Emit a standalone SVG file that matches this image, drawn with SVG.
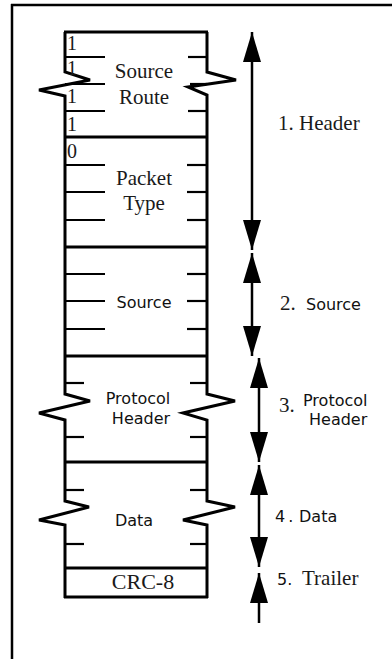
<svg xmlns="http://www.w3.org/2000/svg" width="392" height="659" viewBox="0 0 392 659">
<style>
.edge{fill:none;stroke:#000;stroke-width:3;stroke-linejoin:miter}
.sep{stroke:#000;stroke-width:3}
.tick{stroke:#000;stroke-width:2.2}
.serif{font-family:"Liberation Serif","Times New Roman",serif;fill:#1a1a1a}
.sans{font-family:"DejaVu Sans","Liberation Sans",sans-serif;fill:#111}
.arr{stroke:#000;stroke-width:2.5;fill:none}
</style>
<defs>
<marker id="ah" viewBox="0 0 30 18" refX="30" refY="9" markerWidth="30" markerHeight="18" markerUnits="userSpaceOnUse" orient="auto-start-reverse">
<path d="M0,0 L30,9 L0,18 z" fill="#000"/>
</marker>
</defs>
<rect width="392" height="659" fill="#fff"/>
<g id="frame">
<line x1="11" y1="5" x2="392" y2="5" stroke="#000" stroke-width="2.5"/>
<line x1="12" y1="4" x2="12" y2="659" stroke="#000" stroke-width="2.5"/>
</g>
<g id="column">
<path class="edge" d="M65,32 V72 L90,80 L39,90 L65,96 V394 L90,401 L39,413 L65,420 V501 L89,507 L39,520 L65,525 V598"/>
<path class="edge" d="M207,32 V72 L236,80 L188,87 L207,95 V394 L235,401 L183,413 L207,420 V501 L235,507 L183,520 L207,525 V598"/>
</g>
<g id="source-route">
<line class="sep" x1="64" y1="32" x2="208" y2="32"/>
<line class="tick" x1="65" y1="57" x2="105" y2="57"/>
<line class="tick" x1="65" y1="84" x2="105" y2="84"/>
<line class="tick" x1="65" y1="111" x2="105" y2="111"/>
<line class="tick" x1="188" y1="57" x2="207" y2="57"/>
<line class="tick" x1="190" y1="84" x2="207" y2="84"/>
<line class="tick" x1="188" y1="111" x2="207" y2="111"/>
<text class="serif" x="67" y="50" font-size="20">1</text>
<text class="serif" x="67" y="75" font-size="20">1</text>
<text class="serif" x="67" y="103" font-size="20">1</text>
<text class="serif" x="67" y="131" font-size="20">1</text>
<text class="serif" x="144" y="78" font-size="21" text-anchor="middle">Source</text>
<text class="serif" x="144" y="104" font-size="21" text-anchor="middle">Route</text>
</g>
<g id="packet-type">
<line class="sep" x1="64" y1="137" x2="208" y2="137"/>
<line class="tick" x1="65" y1="165" x2="105" y2="165"/>
<line class="tick" x1="65" y1="192" x2="105" y2="192"/>
<line class="tick" x1="65" y1="220" x2="105" y2="220"/>
<line class="tick" x1="187" y1="165" x2="207" y2="165"/>
<line class="tick" x1="187" y1="192" x2="207" y2="192"/>
<line class="tick" x1="187" y1="220" x2="207" y2="220"/>
<text class="serif" x="67" y="158" font-size="20">0</text>
<text class="serif" x="144" y="185" font-size="21" text-anchor="middle">Packet</text>
<text class="serif" x="144" y="210" font-size="21" text-anchor="middle">Type</text>
</g>
<g id="source">
<line class="sep" x1="64" y1="247" x2="208" y2="247"/>
<line class="tick" x1="66" y1="274" x2="105" y2="274"/>
<line class="tick" x1="66" y1="301" x2="105" y2="301"/>
<line class="tick" x1="66" y1="329" x2="105" y2="329"/>
<line class="tick" x1="187" y1="274" x2="207" y2="274"/>
<line class="tick" x1="187" y1="301" x2="207" y2="301"/>
<line class="tick" x1="187" y1="329" x2="207" y2="329"/>
<text class="sans" x="144" y="308" font-size="16" text-anchor="middle">Source</text>
</g>
<g id="protocol-header">
<line class="sep" x1="64" y1="356" x2="208" y2="356"/>
<line class="tick" x1="65" y1="383" x2="84" y2="383"/>
<line class="tick" x1="65" y1="437" x2="84" y2="437"/>
<line class="tick" x1="190" y1="383" x2="207" y2="383"/>
<line class="tick" x1="190" y1="437" x2="207" y2="437"/>
<text class="sans" x="138" y="404" font-size="16" text-anchor="middle">Protocol</text>
<text class="sans" x="141" y="424" font-size="16" text-anchor="middle">Header</text>
</g>
<g id="data">
<line class="sep" x1="64" y1="462" x2="208" y2="462"/>
<line class="tick" x1="65" y1="490" x2="84" y2="490"/>
<line class="tick" x1="65" y1="544" x2="84" y2="544"/>
<line class="tick" x1="190" y1="490" x2="207" y2="490"/>
<line class="tick" x1="190" y1="544" x2="207" y2="544"/>
<text class="sans" x="134" y="526" font-size="16" text-anchor="middle">Data</text>
</g>
<g id="crc8">
<line class="sep" x1="64" y1="568" x2="208" y2="568"/>
<line class="sep" x1="64" y1="597" x2="208" y2="597"/>
<text class="serif" x="143" y="589" font-size="22" text-anchor="middle">CRC-8</text>
</g>
<g id="connectors">
<line class="arr" x1="252" y1="32" x2="252" y2="250" marker-start="url(#ah)" marker-end="url(#ah)"/>
<line class="arr" x1="252" y1="253" x2="252" y2="356" marker-start="url(#ah)" marker-end="url(#ah)"/>
<line class="arr" x1="259" y1="358" x2="259" y2="462" marker-start="url(#ah)" marker-end="url(#ah)"/>
<line class="arr" x1="259" y1="465" x2="259" y2="567" marker-start="url(#ah)" marker-end="url(#ah)"/>
<line class="arr" x1="259" y1="573" x2="259" y2="623" marker-start="url(#ah)"/>
</g>
<g id="labels">
<text class="serif" x="278" y="130" font-size="21">1. Header</text>
<text x="280" y="310"><tspan class="serif" font-size="21">2.</tspan><tspan class="sans" x="306" font-size="16">Source</tspan></text>
<text class="serif" x="279" y="412" font-size="21">3.</text>
<text class="sans" x="303" y="406" font-size="16">Protocol</text>
<text class="sans" x="309" y="425" font-size="16">Header</text>
<text class="sans" x="275" y="522" font-size="16">4<tspan dx="3">.</tspan><tspan x="299">Data</tspan></text>
<text x="277" y="585"><tspan class="sans" font-size="16">5.</tspan><tspan class="serif" x="302" font-size="21">Trailer</tspan></text>
</g>
</svg>
